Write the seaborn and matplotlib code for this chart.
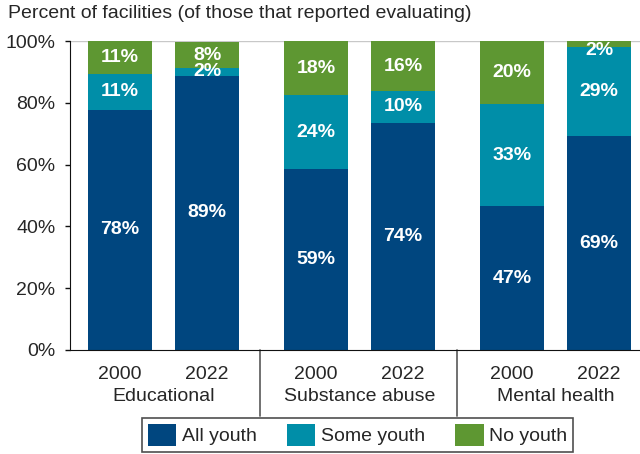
import matplotlib
matplotlib.use("Agg")
import matplotlib.pyplot as plt
import seaborn as sns
from matplotlib.patches import Patch

# ---- data ----
groups = ["Educational", "Substance abuse", "Mental health"]
years = ["2000", "2022", "2000", "2022", "2000", "2022"]
all_youth = [77.8, 88.8, 58.6, 73.6, 46.6, 69.2]
some_youth = [11.4, 2.4, 23.8, 10.2, 33.0, 28.8]
no_youth = [10.8, 8.4, 17.6, 16.2, 20.4, 2.0]
series_names = ["All youth", "Some youth", "No youth"]
colors = ["#00467f", "#008ea8", "#5e9732"]

x_pos = [0, 1, 2.25, 3.25, 4.5, 5.5]

sns.set_style("white")
plt.rcParams["font.family"] = ["Liberation Sans", "DejaVu Sans"]

fig = plt.figure(figsize=(6.4, 4.54), dpi=100)
ax = fig.add_axes([70 / 640, 104 / 454, 570 / 640, 309 / 454])

bottom = [0] * len(x_pos)
for vals, col in zip([all_youth, some_youth, no_youth], colors):
    ax.bar(x_pos, vals, bottom=bottom, width=0.735, color=col, linewidth=0, zorder=2)
    for x, b, v in zip(x_pos, bottom, vals):
        # keep tiny top labels inside the plot area
        ypos = min(b + v / 2, 97)
        ax.text(x, ypos, f"{round(v):.0f}%", ha="center", va="center",
                color="white", fontsize=14, fontweight="bold", zorder=3)
    bottom = [b + v for b, v in zip(bottom, vals)]

ax.set_xlim(-0.575, 5.97)
ax.set_ylim(0, 100)
ax.set_yticks([0, 20, 40, 60, 80, 100])
ax.set_yticklabels([f"{t}%" for t in [0, 20, 40, 60, 80, 100]], fontsize=14)
ax.axhline(100, color="#c8c8c8", lw=1, zorder=1)
ax.tick_params(axis="y", direction="out", length=3.5, width=1, color="#111111", pad=7, left=True)
ax.set_xticks(x_pos)
ax.set_xticklabels(years, fontsize=14)
ax.tick_params(axis="x", length=0, pad=11.5)
sns.despine(ax=ax, top=True, right=True)
ax.spines["left"].set_color("#111111")
ax.spines["bottom"].set_color("#111111")

trans = ax.get_xaxis_transform()
for i, g in enumerate(groups):
    cx = (x_pos[2 * i] + x_pos[2 * i + 1]) / 2
    ax.text(cx, -0.152, g, transform=trans, ha="center", va="center", fontsize=14)
for sx in [1.61, 3.87]:
    ax.plot([sx, sx], [0, -0.213], transform=trans, color="#666666", lw=1.3, clip_on=False)

fig.text(8 / 640, 1 - 14 / 454, "Percent of facilities (of those that reported evaluating)",
         ha="left", va="center", fontsize=14)

handles = [Patch(facecolor=c, edgecolor="none") for c in colors]
leg = fig.legend(handles, series_names, loc="center", bbox_to_anchor=(0.559, 0.0418),
                 ncol=3, frameon=True, fancybox=False, edgecolor="#222222",
                 fontsize=14, handlelength=1.45, handleheight=1.4, columnspacing=1.55,
                 handletextpad=0.3, borderpad=0.3, borderaxespad=0)
leg.get_frame().set_linewidth(1.2)

fig.savefig("out.png", dpi=100)
